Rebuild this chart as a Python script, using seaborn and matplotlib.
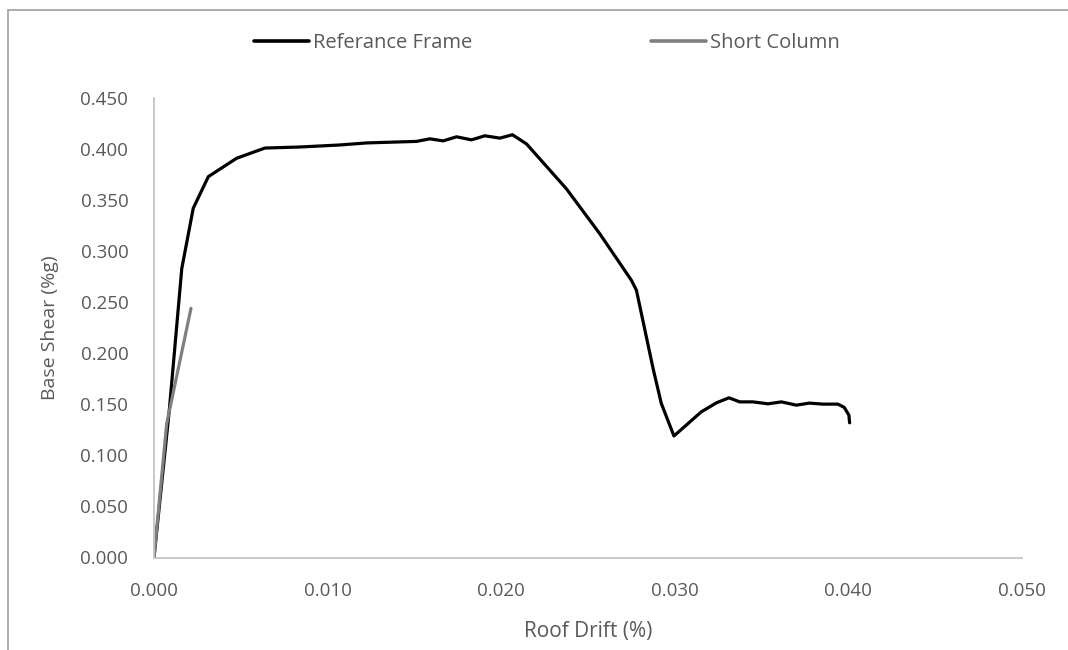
import matplotlib
matplotlib.use("Agg")
import matplotlib.pyplot as plt
from matplotlib.lines import Line2D
from matplotlib.ticker import FormatStrFormatter
import pandas as pd
import seaborn as sns

# Pushover curve of the reference frame (roof drift vs. base shear)
ref_drift = [0.0, 0.00088, 0.0016, 0.00226, 0.00313, 0.00476, 0.00639, 0.0084,
             0.0107, 0.01225, 0.01512, 0.01589, 0.01666, 0.01743, 0.01829, 0.01906,
             0.01992, 0.02065, 0.02146, 0.02376, 0.02568, 0.0275, 0.02779, 0.02875,
             0.02922, 0.02995, 0.03153, 0.0324, 0.03312, 0.03374, 0.0345, 0.03537,
             0.03614, 0.037, 0.03775, 0.03853, 0.0394, 0.03976, 0.04003, 0.04007]
ref_shear = [0.0, 0.144, 0.283, 0.342, 0.373, 0.391, 0.401, 0.402,
             0.404, 0.406, 0.4075, 0.410, 0.408, 0.412, 0.409, 0.413,
             0.4107, 0.414, 0.405, 0.361, 0.317, 0.2715, 0.2617, 0.185,
             0.151, 0.119, 0.1427, 0.1515, 0.1564, 0.1524, 0.1524, 0.1505,
             0.1524, 0.1492, 0.1512, 0.1502, 0.1502, 0.147, 0.1394, 0.1319]

# Pushover curve of the short-column frame
sc_drift = [0.0, 0.00073, 0.00213]
sc_shear = [0.0, 0.131, 0.244]

series_names = ["Referance Frame", "Short Column"]
x_ticks = [0.000, 0.010, 0.020, 0.030, 0.040, 0.050]
y_ticks = [0.000, 0.050, 0.100, 0.150, 0.200, 0.250, 0.300, 0.350, 0.400, 0.450]

df = pd.concat([
    pd.DataFrame({"drift": ref_drift, "shear": ref_shear, "series": series_names[0]}),
    pd.DataFrame({"drift": sc_drift, "shear": sc_shear, "series": series_names[1]}),
], ignore_index=True)

sns.set_theme(style="white")
plt.rcParams["font.family"] = ["Open Sans", "DejaVu Sans"]

W, H = 1068, 650
TEXT = "#595959"
fig = plt.figure(figsize=(W / 100, H / 100), dpi=100)
ax = fig.add_axes([154 / W, (H - 557.5) / H, (1022 - 154) / W, (557.5 - 98) / H])

palette = {series_names[0]: "#000000", series_names[1]: "#7f7f7f"}
sns.lineplot(data=df, x="drift", y="shear", hue="series", palette=palette,
             sort=False, estimator=None, linewidth=2.3, ax=ax, legend=False)

ax.set_xlim(0, 0.05)
ax.set_ylim(0, 0.45)
ax.set_xticks(x_ticks)
ax.set_yticks(y_ticks)
ax.xaxis.set_major_formatter(FormatStrFormatter("%.3f"))
ax.yaxis.set_major_formatter(FormatStrFormatter("%.3f"))
ax.tick_params(axis="both", length=0, labelsize=13.5, colors=TEXT)
ax.tick_params(axis="x", pad=18)
ax.tick_params(axis="y", pad=18.5)

for side in ["top", "right"]:
    ax.spines[side].set_visible(False)
for side in ["left", "bottom"]:
    ax.spines[side].set_color("#c4c4c4")
    ax.spines[side].set_linewidth(1.3)

ax.set_xlabel("Roof Drift (%)", fontsize=15, color=TEXT, labelpad=14.5)
ax.set_ylabel("Base Shear (%g)", fontsize=14, color=TEXT, labelpad=15.5)

handles = [Line2D([], [], color=palette[n], linewidth=2.6) for n in series_names]
fig.legend(handles, series_names, loc="center", bbox_to_anchor=(547 / W, 1 - 43 / H),
           ncol=2, frameon=False, fontsize=14.5, labelcolor=TEXT,
           handlelength=2.7, handletextpad=0.2, columnspacing=8.9)

# Chart-area frame
fig.add_artist(Line2D([8 / W, 1.0], [1 - 10 / H, 1 - 10 / H], transform=fig.transFigure,
                      color="#a6a6a6", linewidth=1.3))
fig.add_artist(Line2D([8 / W, 8 / W], [0.0, 1 - 10 / H], transform=fig.transFigure,
                      color="#a6a6a6", linewidth=1.3))

fig.savefig("out.png", dpi=100)
